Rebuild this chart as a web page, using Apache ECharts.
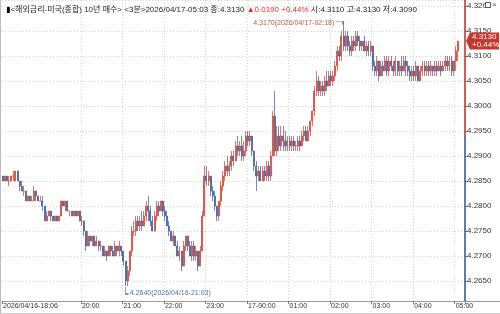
<!DOCTYPE html>
<html><head><meta charset="utf-8">
<script src="https://cdn.jsdelivr.net/npm/echarts@6/dist/echarts.min.js"></script>
<style>html,body{margin:0;padding:0;background:#fff}#c{width:500px;height:314px}</style>
</head><body><div id="c"></div>
<script>
// ---- data: 3-minute bars [open, close, low, high] ----
const startHour = 18, startMinute = 6, stepMinutes = 3, padBars = 3;
const h18 = [
[4.286,4.285,4.285,4.286],[4.285,4.286,4.285,4.286],[4.286,4.285,4.285,4.286],[4.285,4.285,4.284,4.286],
[4.285,4.286,4.285,4.286],[4.286,4.286,4.285,4.287],[4.285,4.287,4.285,4.287],[4.287,4.285,4.285,4.287],
[4.285,4.284,4.283,4.285],[4.284,4.283,4.283,4.285],[4.283,4.283,4.282,4.284],[4.283,4.281,4.281,4.283],
[4.281,4.282,4.281,4.282],[4.282,4.281,4.281,4.282],[4.281,4.281,4.281,4.282],[4.281,4.283,4.281,4.284],
[4.283,4.282,4.281,4.283],[4.282,4.281,4.281,4.282]];
const h19 = [
[4.281,4.281,4.281,4.282],[4.281,4.280,4.279,4.282],[4.280,4.277,4.277,4.280],[4.277,4.278,4.277,4.279],
[4.278,4.279,4.278,4.279],[4.279,4.278,4.277,4.279],[4.278,4.277,4.277,4.278],[4.277,4.278,4.277,4.278],
[4.278,4.277,4.277,4.278],[4.277,4.278,4.277,4.278],[4.278,4.281,4.278,4.281],[4.281,4.280,4.280,4.281],
[4.280,4.281,4.279,4.281],[4.281,4.279,4.279,4.281],[4.279,4.279,4.278,4.279],[4.279,4.278,4.278,4.279],
[4.278,4.279,4.278,4.279],[4.279,4.278,4.278,4.279],[4.278,4.279,4.278,4.279],[4.279,4.277,4.277,4.279]];
const h20 = [
[4.277,4.277,4.276,4.278],[4.277,4.275,4.274,4.277],[4.275,4.272,4.271,4.275],[4.272,4.274,4.272,4.275],
[4.274,4.273,4.272,4.274],[4.273,4.274,4.272,4.274],[4.274,4.272,4.272,4.274],[4.272,4.273,4.272,4.274],
[4.273,4.272,4.271,4.273],[4.272,4.272,4.271,4.273],[4.272,4.270,4.270,4.272],[4.270,4.271,4.270,4.272],
[4.271,4.270,4.269,4.271],[4.270,4.272,4.270,4.272],[4.272,4.271,4.270,4.272],[4.271,4.270,4.270,4.272],
[4.270,4.272,4.270,4.273],[4.272,4.271,4.270,4.272],[4.271,4.272,4.270,4.273],[4.272,4.271,4.270,4.272]];
const h21 = [
[4.271,4.269,4.268,4.271],[4.269,4.265,4.264,4.269],[4.265,4.267,4.264,4.268],[4.267,4.271,4.266,4.271],
[4.271,4.275,4.270,4.276],[4.275,4.275,4.274,4.277],[4.275,4.277,4.274,4.278],[4.277,4.276,4.275,4.278],
[4.276,4.277,4.275,4.278],[4.277,4.276,4.275,4.279],[4.276,4.278,4.276,4.279],[4.278,4.280,4.277,4.281],
[4.280,4.279,4.277,4.282],[4.279,4.277,4.276,4.280],[4.277,4.275,4.275,4.278],[4.275,4.278,4.275,4.279],
[4.278,4.280,4.277,4.281],[4.280,4.279,4.278,4.281],[4.279,4.281,4.279,4.281],[4.281,4.279,4.278,4.281]];
const h22 = [
[4.279,4.278,4.277,4.280],[4.278,4.276,4.276,4.279],[4.276,4.275,4.274,4.277],[4.275,4.273,4.273,4.275],
[4.273,4.274,4.272,4.275],[4.274,4.272,4.272,4.274],[4.272,4.270,4.270,4.273],[4.270,4.271,4.269,4.272],
[4.271,4.268,4.267,4.271],[4.268,4.272,4.268,4.273],[4.272,4.274,4.271,4.274],[4.274,4.272,4.271,4.274],
[4.272,4.270,4.270,4.273],[4.270,4.272,4.269,4.273],[4.272,4.270,4.269,4.273],[4.270,4.271,4.269,4.272],
[4.271,4.268,4.267,4.271],[4.268,4.271,4.268,4.272],[4.271,4.278,4.271,4.279],[4.278,4.286,4.278,4.288]];
const h23 = [
[4.286,4.285,4.284,4.288],[4.285,4.286,4.284,4.287],[4.286,4.283,4.282,4.286],[4.283,4.282,4.281,4.284],
[4.282,4.280,4.279,4.283],[4.280,4.278,4.277,4.280],[4.278,4.281,4.277,4.281],[4.281,4.284,4.280,4.285],
[4.284,4.286,4.283,4.287],[4.286,4.288,4.285,4.289],[4.288,4.287,4.286,4.290],[4.287,4.288,4.286,4.289],
[4.288,4.290,4.287,4.291],[4.290,4.289,4.288,4.291],[4.289,4.292,4.289,4.293],[4.292,4.291,4.290,4.294],
[4.291,4.292,4.290,4.293],[4.292,4.290,4.289,4.294],[4.290,4.291,4.289,4.293],[4.291,4.294,4.290,4.295]];
const h00 = [
[4.294,4.293,4.292,4.295],[4.293,4.294,4.292,4.295],[4.294,4.291,4.290,4.294],[4.291,4.288,4.287,4.291],
[4.288,4.286,4.283,4.289],[4.286,4.287,4.285,4.288],[4.287,4.285,4.285,4.288],[4.285,4.287,4.285,4.288],
[4.287,4.286,4.285,4.288],[4.286,4.288,4.285,4.289],[4.288,4.286,4.285,4.289],[4.286,4.290,4.285,4.291],
[4.290,4.298,4.290,4.299],[4.298,4.291,4.290,4.303],[4.291,4.294,4.290,4.296],[4.294,4.292,4.291,4.296],
[4.292,4.294,4.291,4.296],[4.294,4.293,4.291,4.296],[4.293,4.292,4.291,4.295],[4.292,4.293,4.291,4.294]];
const h01 = [
[4.293,4.292,4.291,4.294],[4.292,4.293,4.291,4.294],[4.293,4.292,4.291,4.294],[4.292,4.292,4.291,4.293],
[4.292,4.293,4.291,4.294],[4.293,4.292,4.291,4.294],[4.292,4.294,4.292,4.295],[4.294,4.295,4.293,4.296],
[4.295,4.293,4.293,4.296],[4.293,4.295,4.293,4.296],[4.295,4.297,4.294,4.297],[4.297,4.299,4.296,4.299],
[4.299,4.303,4.298,4.304],[4.303,4.305,4.302,4.307],[4.305,4.303,4.302,4.306],[4.303,4.304,4.302,4.305],
[4.304,4.303,4.302,4.305],[4.303,4.305,4.302,4.306],[4.305,4.304,4.303,4.307],[4.304,4.306,4.304,4.307]];
const h02 = [
[4.306,4.305,4.304,4.307],[4.305,4.306,4.304,4.307],[4.306,4.308,4.305,4.309],[4.308,4.311,4.307,4.312],
[4.311,4.310,4.309,4.312],[4.310,4.314,4.309,4.315],[4.314,4.312,4.311,4.317],[4.312,4.314,4.311,4.315],
[4.314,4.312,4.311,4.315],[4.312,4.311,4.310,4.313],[4.311,4.313,4.310,4.314],[4.313,4.312,4.311,4.314],
[4.312,4.314,4.311,4.315],[4.314,4.313,4.312,4.315],[4.313,4.312,4.311,4.314],[4.312,4.313,4.311,4.313],
[4.313,4.311,4.311,4.314],[4.311,4.312,4.310,4.313],[4.312,4.311,4.310,4.313],[4.311,4.312,4.310,4.313]];
const h03 = [
[4.312,4.308,4.307,4.312],[4.308,4.307,4.306,4.309],[4.307,4.309,4.306,4.310],[4.309,4.306,4.305,4.309],
[4.306,4.308,4.306,4.309],[4.308,4.307,4.306,4.309],[4.307,4.309,4.307,4.310],[4.309,4.307,4.306,4.310],
[4.307,4.309,4.306,4.310],[4.309,4.308,4.307,4.310],[4.308,4.307,4.306,4.309],[4.307,4.309,4.306,4.310],
[4.309,4.307,4.306,4.309],[4.307,4.308,4.306,4.309],[4.308,4.307,4.306,4.310],[4.307,4.309,4.307,4.310],
[4.309,4.308,4.306,4.310],[4.308,4.307,4.306,4.309],[4.307,4.306,4.305,4.308],[4.306,4.307,4.305,4.308]];
const h04 = [
[4.307,4.306,4.305,4.308],[4.306,4.308,4.305,4.309],[4.308,4.305,4.305,4.308],[4.305,4.307,4.305,4.308],
[4.307,4.308,4.306,4.309],[4.308,4.307,4.306,4.309],[4.307,4.308,4.306,4.309],[4.308,4.307,4.306,4.309],
[4.307,4.308,4.306,4.309],[4.308,4.307,4.306,4.308],[4.307,4.308,4.306,4.309],[4.308,4.307,4.306,4.309],
[4.307,4.308,4.307,4.309],[4.308,4.307,4.306,4.309],[4.307,4.308,4.307,4.309],[4.308,4.309,4.307,4.310],
[4.309,4.308,4.307,4.310],[4.308,4.309,4.307,4.310],[4.309,4.307,4.306,4.310],[4.307,4.309,4.306,4.309]];
const h05 = [
[4.309,4.311,4.307,4.312],[4.311,4.313,4.309,4.313]];

// x-axis labels that are drawn (first bar + hour marks)
const firstLabel = '2026/04/16-18:06';
const hourLabels = ['20:00','21:00','22:00','23:00','00:00','01:00','02:00','03:00','04:00','05:00'];
const midnightLabel = '17-00:00';

const prevClose = 4.294;
const lastClose = 4.313;
const changeText = '+0.44%';
const titleMain = '<해외금리-미국(종합) 10년 매수> <3분>2026/04/17-05:03 종:4.3130 ';
const titleChange = '▲0.0190 +0.44%';
const titleRest = ' 시:4.3110 고:4.3130 저:4.3090';
const highNote = {index: 164, value: 4.317, text: '4.3170(2026/04/17-02:18)'};
const lowNote = {index: 59, value: 4.264, text: '4.2640(2026/04/16-21:03)'};

// ---- build ----
const bars = [].concat(h18, h19, h20, h21, h22, h23, h00, h01, h02, h03, h04, h05);
const cats = [];
for (let i = 0; i < bars.length + padBars; i++) {
  const m = startHour * 60 + startMinute + stepMinutes * i;
  const hh = Math.floor(m / 60) % 24, mm = m % 60;
  cats.push(String(hh).padStart(2, '0') + ':' + String(mm).padStart(2, '0'));
}
const showLabel = (idx, val) => idx === 0 || (hourLabels.indexOf(val) >= 0 && idx < bars.length);
const showGrid = (idx, val) => hourLabels.indexOf(val) >= 0 && idx < bars.length;
const FONT = "'Liberation Sans','Noto Sans CJK KR',sans-serif";
const UP = '#d8412e', DOWN = '#3b5c9c';

const chart = echarts.init(document.getElementById('c'), null, {renderer: 'canvas'});
chart.setOption({
  animation: false,
  textStyle: {fontFamily: FONT},
  title: {
    left: 1, top: 1,
    text: '{b|▮}{k|' + titleMain + '}{r|' + titleChange + '}{k|' + titleRest + '}',
    textStyle: {
      fontSize: 8, fontWeight: 'normal', color: '#222', fontFamily: FONT,
      rich: {
        b: {fontSize: 8, color: '#000', fontFamily: 'DejaVu Sans'},
        k: {fontSize: 8, color: '#222', fontFamily: FONT},
        r: {fontSize: 8, color: '#d9302a', fontFamily: FONT}
      }
    }
  },
  grid: {left: 1, right: 35, top: 0, bottom: 13},
  xAxis: {
    type: 'category', data: cats, boundaryGap: true,
    axisLine: {lineStyle: {color: '#9a9a9a', width: 1}},
    axisTick: {show: true, length: 3, interval: showLabel, lineStyle: {color: '#777'}},
    axisLabel: {
      interval: showLabel, align: 'left', margin: 2, fontSize: 7, color: '#333', fontFamily: FONT,
      hideOverlap: false, showMinLabel: true,
      formatter: (v, idx) => idx === 0 ? firstLabel : (v === '00:00' ? midnightLabel : v)
    },
    splitLine: {show: true, interval: showGrid, lineStyle: {color: '#d4d4d4', type: [1, 2], width: 1}}
  },
  yAxis: {
    type: 'value', position: 'right', scale: true,
    min: 4.261, max: 4.3212, splitNumber: 12,
    axisLine: {show: false},
    axisTick: {show: true, length: 3, lineStyle: {color: '#777'}},
    axisLabel: {
      margin: 2, fontSize: 8, color: '#333', fontFamily: FONT,
      showMinLabel: false, showMaxLabel: false,
      formatter: v => v.toFixed(4)
    },
    splitLine: {show: true, lineStyle: {color: '#d4d4d4', type: [1, 2], width: 1}}
  },
  series: [{
    type: 'candlestick',
    data: bars,
    barWidth: 1.5,
    itemStyle: {
      color: UP, color0: DOWN,
      borderColor: 'rgba(216,65,46,0.72)', borderColor0: 'rgba(59,92,156,0.72)', borderWidth: 1
    },
    markPoint: {
      silent: true,
      data: [
        {
          coord: [highNote.index, highNote.value],
          symbol: 'path://M0,0H8V3', symbolSize: [7, 3], symbolOffset: [-4, 2],
          itemStyle: {color: 'rgba(0,0,0,0)', borderColor: '#c25a45', borderWidth: 1},
          label: {show: true, position: 'left', distance: 1, offset: [0, 0],
                  formatter: highNote.text, color: '#c25a45', fontSize: 7, fontFamily: FONT}
        },
        {
          coord: [lowNote.index, lowNote.value],
          symbol: 'path://M0,0V7H4', symbolSize: [3, 7], symbolOffset: [1.5, 4.5],
          itemStyle: {color: 'rgba(0,0,0,0)', borderColor: '#5b6e9e', borderWidth: 1},
          label: {show: true, position: 'right', distance: 1, offset: [0, 3],
                  formatter: lowNote.text, color: '#5b6e9e', fontSize: 7, fontFamily: FONT}
        }
      ]
    }
  }]
});

// axis line split at the previous close, price tag, frame
(function decorate() {
  const W = chart.getWidth(), H = chart.getHeight();
  const rect = chart.getModel().getComponent('grid').coordinateSystem.getRect();
  const right = rect.x + rect.width, top = rect.y, bottom = rect.y + rect.height;
  const yPrev = chart.convertToPixel({yAxisIndex: 0}, prevClose);
  const yLast = chart.convertToPixel({yAxisIndex: 0}, lastClose);
  chart.setOption({
    graphic: [
      {type: 'line', shape: {x1: right, y1: top, x2: right, y2: yPrev}, style: {stroke: '#c9362b', lineWidth: 1.6}, z: 50},
      {type: 'line', shape: {x1: right, y1: yPrev, x2: right, y2: bottom}, style: {stroke: '#3b5c9c', lineWidth: 1.6}, z: 50},
      {type: 'line', shape: {x1: right, y1: bottom + 0.5, x2: W, y2: bottom + 0.5}, style: {stroke: '#9a9a9a', lineWidth: 1}, z: 50},
      {type: 'line', shape: {x1: 0.5, y1: 0, x2: 0.5, y2: H}, style: {stroke: '#bdbdbd', lineWidth: 1}, z: 50},
      {type: 'line', shape: {x1: 0, y1: H - 0.5, x2: W, y2: H - 0.5}, style: {stroke: '#cfcfcf', lineWidth: 1}, z: 50},
      {type: 'polygon', shape: {points: [[right + 1, yLast], [right + 5, yLast - 8.5], [W - 1, yLast - 8.5], [W - 1, yLast + 8.5], [right + 5, yLast + 8.5]]},
       style: {fill: '#c7372b'}, z: 60},
      {type: 'text', x: right + 7, y: yLast - 4.5, style: {text: lastClose.toFixed(4), fill: '#fff', font: '8px ' + FONT, textVerticalAlign: 'middle'}, z: 61},
      {type: 'text', x: right + 7, y: yLast + 4, style: {text: changeText, fill: '#fff', font: '8px ' + FONT, textVerticalAlign: 'middle'}, z: 61},
      {type: 'rect', shape: {x: 485.5, y: 2.5, width: 5, height: 5}, style: {fill: '#fff', stroke: '#555', lineWidth: 1}, z: 62},
      {type: 'text', x: 492, y: 5, style: {text: '×', fill: '#555', font: '8px ' + FONT, textVerticalAlign: 'middle'}, z: 62}
    ]
  });
})();
</script>
</body></html>
